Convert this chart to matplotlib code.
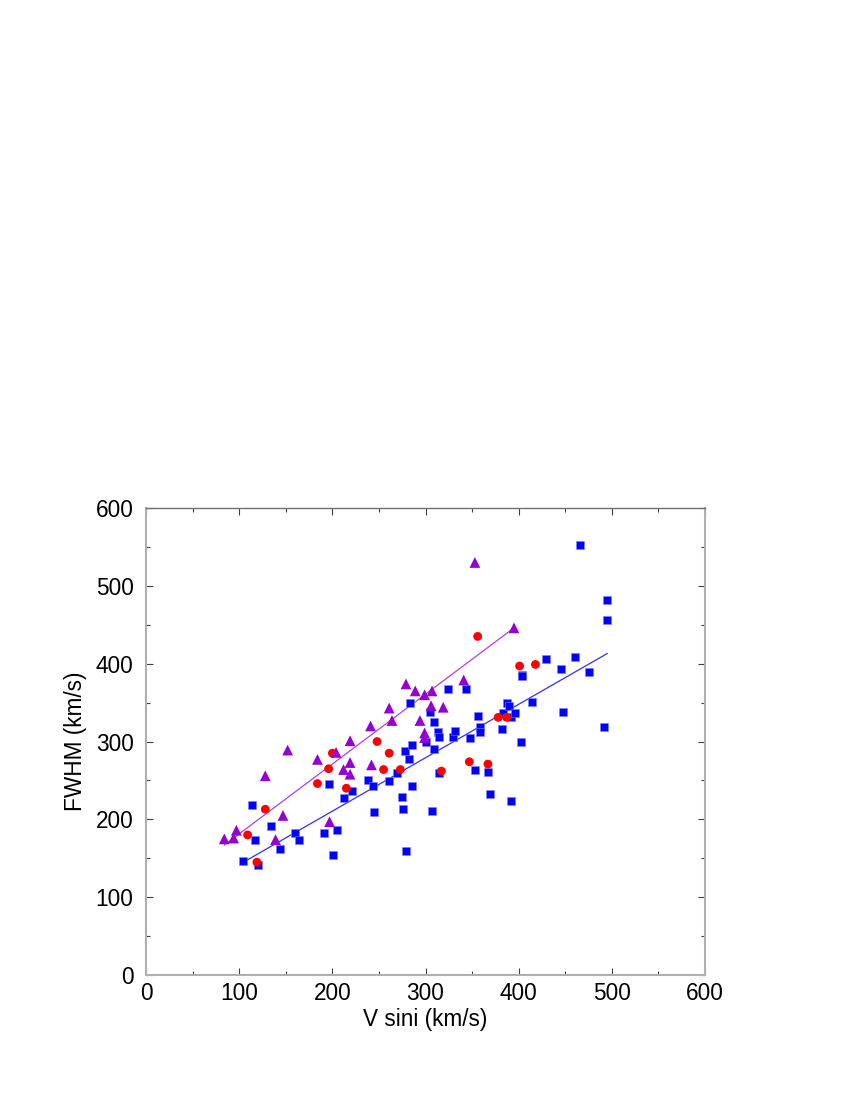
import matplotlib
matplotlib.use("Agg")
import matplotlib.pyplot as plt
from matplotlib.ticker import MultipleLocator

plt.rcParams['font.family'] = ['Liberation Sans', 'DejaVu Sans']

# blue squares: (V sini, FWHM)
sq_x = [104, 114, 117, 120, 134, 144, 160, 164, 191, 196, 201, 205, 212, 221,
        238, 244, 245, 261, 269, 275, 276, 278, 279, 282, 283, 285, 285, 300,
        305, 307, 309, 309, 313, 314, 314, 324, 329, 332, 343, 348, 353, 356,
        359, 359, 367, 369, 382, 383, 387, 390, 392, 392, 396, 403, 404, 404,
        414, 429, 445, 448, 460, 466, 475, 492, 495, 495]
sq_y = [146, 219, 174, 141, 192, 162, 182, 174, 182, 246, 154, 186, 228, 237,
        250, 243, 210, 249, 259, 229, 213, 288, 159, 277, 350, 243, 296, 300,
        338, 211, 325, 291, 312, 306, 259, 368, 306, 313, 367, 304, 264, 333,
        318, 312, 261, 232, 316, 336, 350, 345, 223, 332, 336, 300, 385, 384,
        351, 406, 393, 338, 409, 552, 389, 318, 482, 456]

# red circles
ci_x = [109, 119, 128, 184, 196, 200, 215, 248, 255, 261, 273, 317, 347, 356,
        367, 378, 387, 401, 418]
ci_y = [180, 145, 213, 246, 265, 285, 240, 300, 264, 285, 264, 262, 274, 435,
        271, 331, 331, 397, 399]

# purple triangles
tr_x = [84, 94, 97, 128, 139, 147, 152, 184, 197, 204, 212, 219, 219, 219,
        241, 242, 261, 264, 279, 289, 294, 299, 299, 299, 306, 307, 319, 341,
        353, 395]
tr_y = [175, 176, 186, 256, 174, 205, 289, 277, 197, 286, 264, 301, 273, 258,
        320, 270, 343, 327, 374, 365, 327, 360, 311, 305, 346, 365, 344, 379,
        530, 446]

# fitted lines (end points)
blue_fit_x = [106, 495]
blue_fit_y = [146, 413]
purple_fit_x = [84, 395]
purple_fit_y = [167, 446]

fig = plt.figure(figsize=(8.5, 11), dpi=100)
ax = fig.add_axes([0.1718, 0.1136, 0.6576, 0.4246])

ax.plot(blue_fit_x, blue_fit_y, color='#3030ff', lw=0.9, zorder=2)
ax.plot(purple_fit_x, purple_fit_y, color='#b040e0', lw=0.9, zorder=2)

ax.scatter(sq_x, sq_y, marker='s', s=36, color='#0000ff', edgecolors='#8080ff',
           linewidths=0.4, zorder=3)
ax.scatter(ci_x, ci_y, marker='o', s=40, color='#ff0000', edgecolors='none',
           zorder=3)
ax.scatter(tr_x, tr_y, marker='^', s=60, color='#9400d3', edgecolors='none',
           zorder=3)

ax.set_xlim(0, 600)
ax.set_ylim(0, 600)
ax.xaxis.set_major_locator(MultipleLocator(100))
ax.xaxis.set_minor_locator(MultipleLocator(50))
ax.yaxis.set_major_locator(MultipleLocator(100))
ax.yaxis.set_minor_locator(MultipleLocator(50))
ax.tick_params(which='both', direction='in', top=True, right=True,
               labelsize=16.3)
ax.tick_params(axis='x', pad=5)
ax.tick_params(axis='y', pad=9)
ax.tick_params(which='major', length=5, width=0.8, color='#404040')
ax.tick_params(which='minor', length=3, width=0.8, color='#404040')

for name, sp in ax.spines.items():
    sp.set_color('#b0b0b0')
    sp.set_linewidth(1.5)
ax.spines['top'].set_color('#707070')
ax.spines['top'].set_linewidth(1.0)

ax.set_xlabel('V sini (km/s)', fontsize=16.3, labelpad=2)
ax.set_ylabel('FWHM (km/s)', fontsize=16.3, labelpad=6)

fig.savefig('out.png', dpi=100)
